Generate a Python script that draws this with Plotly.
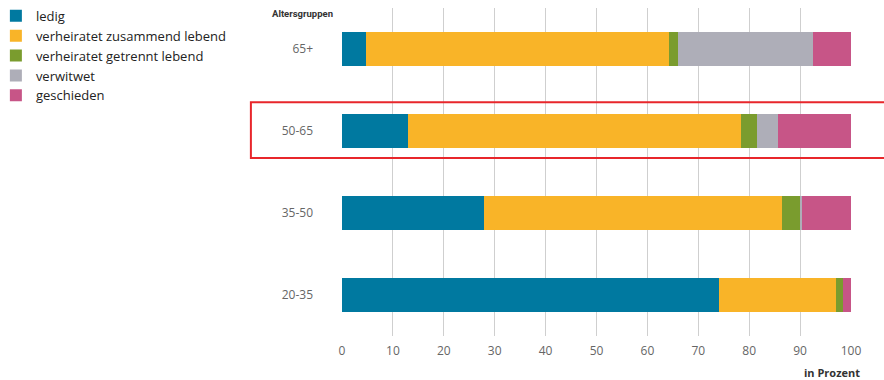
import plotly.graph_objects as go

categories = ["20-35", "35-50", "50-65", "65+"]
series_names = ["ledig", "verheiratet zusammend lebend", "verheiratet getrennt lebend", "verwitwet", "geschieden"]
ledig = [74.0, 27.9, 13.0, 4.8]
zusammen = [23.0, 58.5, 65.4, 59.4]
getrennt = [1.5, 3.5, 3.2, 1.9]
verwitwet = [0.0, 0.4, 4.0, 26.4]
geschieden = [1.5, 9.7, 14.4, 7.5]
x_ticks = [0, 10, 20, 30, 40, 50, 60, 70, 80, 90, 100]

colors = ["#0079A0", "#F9B428", "#7A9C2E", "#AEAEB8", "#C75587"]
values = [ledig, zusammen, getrennt, verwitwet, geschieden]

fig = go.Figure()
for name, vals, col in zip(series_names, values, colors):
    fig.add_trace(go.Bar(
        y=categories, x=vals, name=name, orientation="h",
        marker=dict(color=col, line=dict(width=0)),
    ))

font_family = "Open Sans, sans-serif"
fig.update_layout(
    barmode="stack",
    bargap=0.59,
    width=884, height=380,
    margin=dict(l=342, r=33, t=8, b=44, autoexpand=False),
    paper_bgcolor="white", plot_bgcolor="white",
    font=dict(family=font_family, color="#555555", size=12),
    showlegend=True,
    legend=dict(
        x=-0.68, y=1.022, xanchor="left", yanchor="top",
        traceorder="normal",
        font=dict(size=13, color="#222222", family=font_family),
        tracegroupgap=0, itemwidth=30,
        bgcolor="rgba(0,0,0,0)",
    ),
    xaxis=dict(
        range=[0, 100], tickvals=x_ticks, showgrid=True,
        gridcolor="#cfcfcf", gridwidth=1, zeroline=False,
        showline=False, ticks="", fixedrange=True,
        ticklabelstandoff=6,
        tickfont=dict(size=12, color="#666666"),
    ),
    yaxis=dict(
        categoryorder="array", categoryarray=categories,
        range=[-0.5, 3.5], showgrid=False, zeroline=False,
        showline=False, ticks="", ticklabelstandoff=28,
        automargin=False,
        tickfont=dict(size=12, color="#666666"),
    ),
    annotations=[
        dict(text="<b>Altersgruppen</b>", xref="paper", yref="paper",
             x=-0.013, y=0.982, xanchor="right", yanchor="middle",
             showarrow=False, font=dict(size=9.5, color="#333333", family="Roboto, sans-serif")),
        dict(text="<b>in Prozent</b>", xref="paper", yref="paper",
             x=1.022, y=-0.11, xanchor="right", yanchor="middle",
             showarrow=False, font=dict(size=11, color="#333333")),
    ],
    shapes=[
        dict(type="rect", xref="paper", yref="y",
             x0=-0.179, x1=1.1, y0=1.67, y1=2.35,
             line=dict(color="#E8262B", width=2), fillcolor="rgba(0,0,0,0)",
             layer="above"),
    ],
)

fig.write_html("out.html")
